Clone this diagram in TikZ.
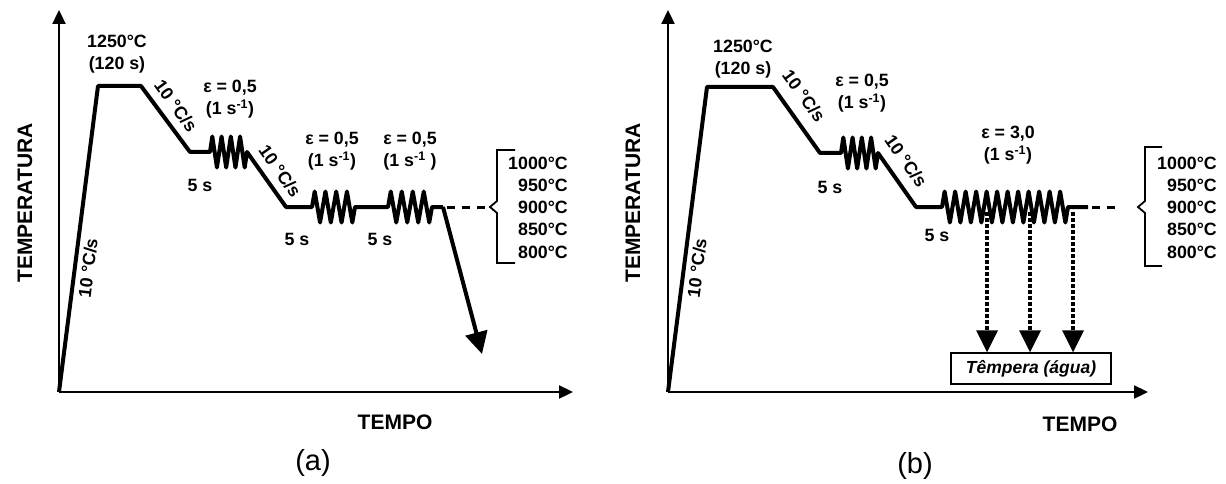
\documentclass[tikz,border=0pt]{standalone}
\usepackage{fontspec}
\setmainfont{Liberation Sans}
\usetikzlibrary{arrows.meta}
\begin{document}
\begin{tikzpicture}[x=1pt,y=-1pt,
  curve/.style={line width=4pt, line join=round},
  axisline/.style={line width=2.3pt, -{Triangle[length=14pt,width=13pt]}},
  bracket/.style={line width=1.8pt, line join=miter},
  dashline/.style={line width=3pt, dash pattern=on 8pt off 7pt},
  dotline/.style={line width=4pt, dash pattern=on 3.5pt off 2.5pt},
  bighead/.style={-{Triangle[length=22pt,width=22pt]}},
  lbl/.style={font=\fontsize{17.8}{22}\selectfont\bfseries, inner sep=0pt, align=center},
  axlbl/.style={font=\fontsize{21}{24}\selectfont\bfseries, inner sep=0pt},
  temp/.style={font=\fontsize{17.8}{22}\selectfont\bfseries, inner sep=0pt, anchor=east},
  panel/.style={font=\fontsize{29}{32}\selectfont, inner sep=0pt}
]
\useasboundingbox (0,0) rectangle (1226,484);

% ================= panel (a) =================
\coordinate (oa) at (59,392);
\draw[axisline] (oa) -- (59,10);
\draw[axisline] (oa) -- (573,392);
\node[axlbl, rotate=90] (ta) at (25,203) {TEMPERATURA};
\node[axlbl] (tpa) at (395,422) {TEMPO};
\node[panel] (pa) at (313,463) {(a)};

\draw[curve] (oa) -- (98,86) -- (141,86) -- (190,152) -- (210,152)
  \foreach \i in {1,...,4}{ -- ({210+(\i-0.75)*9.25},136.5) -- ({210+(\i-0.25)*9.25},167.5) }
  -- (247,152) -- (286,207) -- (312,207)
  \foreach \i in {1,...,4}{ -- ({312+(\i-0.75)*10.75},191.5) -- ({312+(\i-0.25)*10.75},222.5) }
  -- (355,207) -- (388,207)
  \foreach \i in {1,...,4}{ -- ({388+(\i-0.75)*11},191.5) -- ({388+(\i-0.25)*11},222.5) }
  -- (432,207) -- (443,207) coordinate (enda);
\draw[curve, bighead] (enda) -- (482,354);
\draw[dashline] (447,207) -- (490,207);
\draw[bracket] (515,150) -- (497,150) -- (497,201) -- (490,207) -- (497,213) -- (497,263) -- (515,263);

\node[temp] (a1) at (568,163) {1000°C};
\node[temp] (a2) at (568,185.5) {950°C};
\node[temp] (a3) at (568,207.5) {900°C};
\node[temp] (a4) at (568,229.5) {850°C};
\node[temp] (a5) at (568,252) {800°C};

\node[lbl] (a_hold) at (117,54) {1250°C\\(120 s)};
\node[lbl, rotate=83] (a_r1) at (88,268) {10 °C/s};
\node[lbl, rotate=-54] (a_r2) at (176,106) {10 °C/s};
\node[lbl, rotate=-55] (a_r3) at (280,171) {10 °C/s};
\node[lbl] (a_e1) at (230,99) {ε = 0,5\\(1 s\textsuperscript{-1})};
\node[lbl] (a_e2) at (332,151) {ε = 0,5\\(1 s\textsuperscript{-1})};
\node[lbl] (a_e3) at (410,151) {ε = 0,5\\(1 s\textsuperscript{-1} )};
\node[lbl] (a_s1) at (200,185) {5 s};
\node[lbl] (a_s2) at (297,239) {5 s};
\node[lbl] (a_s3) at (380,239) {5 s};

% ================= panel (b) =================
\coordinate (ob) at (668,392);
\draw[axisline] (ob) -- (668,10);
\draw[axisline] (ob) -- (1148,392);
\node[axlbl, rotate=90] (tb) at (633,203) {TEMPERATURA};
\node[axlbl] (tpb) at (1080,424) {TEMPO};
\node[panel] (pb) at (915,466) {(b)};

\draw[curve] (ob) -- (707,87) -- (773,87) -- (820,153) -- (841,153)
  \foreach \i in {1,...,4}{ -- ({841+(\i-0.75)*9.25},137.5) -- ({841+(\i-0.25)*9.25},168.5) }
  -- (878,153) -- (916,207) -- (942,207)
  \foreach \i in {1,...,12}{ -- ({942+(\i-0.75)*10.5},191.5) -- ({942+(\i-0.25)*10.5},222.5) }
  -- (1068,207) -- (1088,207);
\draw[dashline] (1092,207) -- (1121,207);
\draw[bracket] (1162,147) -- (1145,147) -- (1145,201) -- (1138,207) -- (1145,213) -- (1145,266) -- (1162,266);

\node[temp] (b1) at (1217,163) {1000°C};
\node[temp] (b2) at (1217,185.5) {950°C};
\node[temp] (b3) at (1217,207.5) {900°C};
\node[temp] (b4) at (1217,229.5) {850°C};
\node[temp] (b5) at (1217,252) {800°C};

\node[lbl] (b_hold) at (743,59) {1250°C\\(120 s)};
\node[lbl, rotate=83] (b_r1) at (697,268) {10 °C/s};
\node[lbl, rotate=-54] (b_r2) at (804,96) {10 °C/s};
\node[lbl, rotate=-55] (b_r3) at (906,161) {10 °C/s};
\node[lbl] (b_e1) at (862,93) {ε = 0,5\\(1 s\textsuperscript{-1})};
\node[lbl] (b_e2) at (1008,145) {ε = 3,0\\(1 s\textsuperscript{-1})};
\node[lbl] (b_s1) at (830,187) {5 s};
\node[lbl] (b_s2) at (937,235) {5 s};

\node[draw, line width=1.5pt, minimum width=160pt, minimum height=31pt, inner sep=0pt,
      font=\fontsize{17.5}{20}\selectfont\bfseries\itshape] (quench) at (1031,368.5) {Têmpera (água)};
\coordinate (q1) at (987,212);
\coordinate (q2) at (1030,212);
\coordinate (q3) at (1073,212);
\foreach \q in {q1,q2,q3}{
  \coordinate (tip) at (\q |- quench.north);
  \draw[dotline] (\q) -- ([yshift=22pt]tip);
  \fill (tip) -- ++(-11,-22) -- ++(22,0) -- cycle;
}
\end{tikzpicture}
\end{document}
